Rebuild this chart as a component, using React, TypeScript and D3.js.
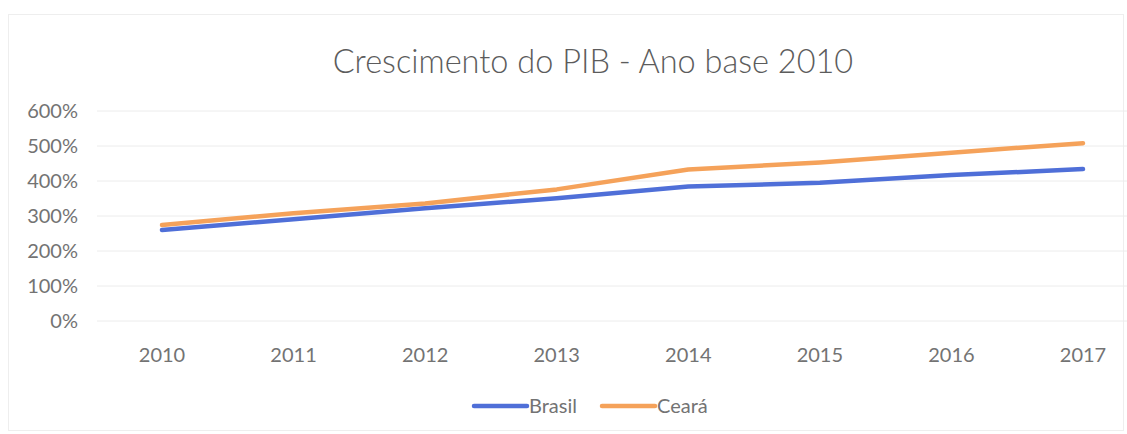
import React, { useEffect, useRef } from 'react';
import * as d3 from 'd3';

const years = ['2010', '2011', '2012', '2013', '2014', '2015', '2016', '2017'];
const brasil = [260, 291, 322, 351, 384, 395, 417, 434];
const ceara = [274, 308, 336, 376, 433, 453, 481, 508];
const yTicks = [0, 100, 200, 300, 400, 500, 600];

const W = 1127;
const H = 434;
const FONT = 'Lato, "Open Sans", sans-serif';

export default function App() {
  const ref = useRef<SVGSVGElement>(null);

  useEffect(() => {
    const svg = d3.select(ref.current);
    svg.selectAll('*').remove();

    svg.append('rect')
      .attr('x', 8.5).attr('y', 14.5)
      .attr('width', W - 12).attr('height', H - 18)
      .attr('fill', '#fff')
      .attr('stroke', '#eeeeee');

    const x = d3.scalePoint<string>().domain(years).range([162, 1083]);
    const y = d3.scaleLinear().domain([0, 600]).range([321, 111]);

    svg.append('text')
      .attr('x', 593).attr('y', 73)
      .attr('text-anchor', 'middle')
      .attr('font-family', FONT)
      .attr('font-size', 32.5)
      .attr('font-weight', 300)
      .attr('fill', '#5c5c5c')
      .text('Crescimento do PIB - Ano base 2010');

    const grid = svg.append('g');
    grid.selectAll('line')
      .data(yTicks)
      .join('line')
      .attr('x1', 97).attr('x2', W)
      .attr('y1', d => y(d)).attr('y2', d => y(d))
      .attr('stroke', '#ececec')
      .attr('stroke-width', 1);

    grid.selectAll('text')
      .data(yTicks)
      .join('text')
      .attr('x', 78)
      .attr('y', d => y(d) + 7)
      .attr('text-anchor', 'end')
      .attr('font-family', FONT)
      .attr('font-size', 20)
      .attr('fill', '#737373')
      .text(d => d + '%');

    svg.append('g')
      .selectAll('text')
      .data(years)
      .join('text')
      .attr('x', d => x(d)!)
      .attr('y', 362)
      .attr('text-anchor', 'middle')
      .attr('font-family', FONT)
      .attr('font-size', 20)
      .attr('fill', '#737373')
      .text(d => d);

    const series = [
      { name: 'Brasil', values: brasil, color: '#4f6fd8' },
      { name: 'Ceará', values: ceara, color: '#f5a25a' },
    ];

    const line = d3.line<number>()
      .x((_, i) => x(years[i])!)
      .y(d => y(d));

    series.forEach(s => {
      svg.append('path')
        .datum(s.values)
        .attr('d', line)
        .attr('fill', 'none')
        .attr('stroke', s.color)
        .attr('stroke-width', 4.5)
        .attr('stroke-linecap', 'round')
        .attr('stroke-linejoin', 'round');
    });

    const legendX = [474, 602];
    series.forEach((s, i) => {
      const g = svg.append('g').attr('transform', `translate(${legendX[i]}, 406)`);
      g.append('line')
        .attr('x1', 0).attr('x2', 53)
        .attr('y1', 0).attr('y2', 0)
        .attr('stroke', s.color)
        .attr('stroke-width', 4.5)
        .attr('stroke-linecap', 'round');
      g.append('text')
        .attr('x', 55).attr('y', 7)
        .attr('font-family', FONT)
        .attr('font-size', 20)
        .attr('fill', '#737373')
        .text(s.name);
    });
  }, []);

  return (
    <svg ref={ref} width={W} height={H} style={{ display: 'block', position: 'absolute', left: 0, top: 0 }} />
  );
}
